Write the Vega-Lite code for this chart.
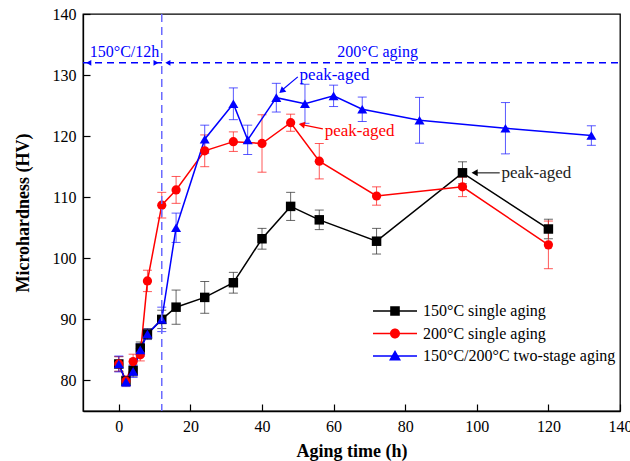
{
  "$schema": "https://vega.github.io/schema/vega-lite/v6.json",
  "width": 537,
  "height": 397,
  "autosize": "none",
  "padding": {"left": 83, "top": 14, "right": 10, "bottom": 50},
  "background": "white",
  "config": {
    "font": "Liberation Serif, Times New Roman, serif",
    "view": {"stroke": "#000", "strokeWidth": 1.3},
    "axis": {
      "labelFont": "Liberation Serif, Times New Roman, serif", "labelFontSize": 16, "labelColor": "#000",
      "titleFont": "Liberation Serif, Times New Roman, serif", "titleFontSize": 18, "titleFontWeight": "bold", "titleColor": "#000",
      "domainColor": "#000", "domainWidth": 1.3, "tickColor": "#000", "tickWidth": 1.2, "grid": false
    }
  },
  "datasets": {
    "hv": [
      {"series": "150°C single aging", "t": 0, "hv": 82.7, "err": 1.2},
      {"series": "150°C single aging", "t": 2, "hv": 79.9, "err": 0.8},
      {"series": "150°C single aging", "t": 4, "hv": 81.6, "err": 0.9},
      {"series": "150°C single aging", "t": 6, "hv": 85.3, "err": 1.0},
      {"series": "150°C single aging", "t": 8, "hv": 87.6, "err": 0.9},
      {"series": "150°C single aging", "t": 12, "hv": 90.0, "err": 1.5},
      {"series": "150°C single aging", "t": 16, "hv": 92.0, "err": 2.8},
      {"series": "150°C single aging", "t": 24, "hv": 93.6, "err": 2.6},
      {"series": "150°C single aging", "t": 32, "hv": 96.0, "err": 1.7},
      {"series": "150°C single aging", "t": 40, "hv": 103.2, "err": 1.7},
      {"series": "150°C single aging", "t": 48, "hv": 108.5, "err": 2.3},
      {"series": "150°C single aging", "t": 56, "hv": 106.3, "err": 1.6},
      {"series": "150°C single aging", "t": 72, "hv": 102.8, "err": 2.1},
      {"series": "150°C single aging", "t": 96, "hv": 114.0, "err": 1.8},
      {"series": "150°C single aging", "t": 120, "hv": 104.8, "err": 1.6},
      {"series": "200°C single aging", "t": 0, "hv": 82.7, "err": 1.2},
      {"series": "200°C single aging", "t": 2, "hv": 79.9, "err": 0.8},
      {"series": "200°C single aging", "t": 4, "hv": 83.1, "err": 1.2},
      {"series": "200°C single aging", "t": 6, "hv": 84.2, "err": 1.0},
      {"series": "200°C single aging", "t": 8, "hv": 96.3, "err": 1.75},
      {"series": "200°C single aging", "t": 12, "hv": 108.7, "err": 2.1},
      {"series": "200°C single aging", "t": 16, "hv": 111.2, "err": 2.2},
      {"series": "200°C single aging", "t": 24, "hv": 117.6, "err": 2.6},
      {"series": "200°C single aging", "t": 32, "hv": 119.1, "err": 1.6},
      {"series": "200°C single aging", "t": 40, "hv": 118.8, "err": 4.7},
      {"series": "200°C single aging", "t": 48, "hv": 122.2, "err": 1.4},
      {"series": "200°C single aging", "t": 56, "hv": 115.9, "err": 2.9},
      {"series": "200°C single aging", "t": 72, "hv": 110.2, "err": 1.5},
      {"series": "200°C single aging", "t": 96, "hv": 111.7, "err": 1.6},
      {"series": "200°C single aging", "t": 120, "hv": 102.2, "err": 3.9},
      {"series": "150°C/200°C two-stage aging", "t": 0, "hv": 82.7, "err": 1.3},
      {"series": "150°C/200°C two-stage aging", "t": 2, "hv": 79.8, "err": 0.8},
      {"series": "150°C/200°C two-stage aging", "t": 4, "hv": 81.5, "err": 1.0},
      {"series": "150°C/200°C two-stage aging", "t": 6, "hv": 85.0, "err": 1.0},
      {"series": "150°C/200°C two-stage aging", "t": 8, "hv": 87.6, "err": 0.8},
      {"series": "150°C/200°C two-stage aging", "t": 12, "hv": 90.0, "err": 2.0},
      {"series": "150°C/200°C two-stage aging", "t": 16, "hv": 105.0, "err": 2.4},
      {"series": "150°C/200°C two-stage aging", "t": 24, "hv": 119.5, "err": 2.3},
      {"series": "150°C/200°C two-stage aging", "t": 32, "hv": 125.3, "err": 2.6},
      {"series": "150°C/200°C two-stage aging", "t": 36, "hv": 119.4, "err": 2.4},
      {"series": "150°C/200°C two-stage aging", "t": 44, "hv": 126.3, "err": 2.35},
      {"series": "150°C/200°C two-stage aging", "t": 52, "hv": 125.3, "err": 3.2},
      {"series": "150°C/200°C two-stage aging", "t": 60, "hv": 126.6, "err": 1.75},
      {"series": "150°C/200°C two-stage aging", "t": 68, "hv": 124.4, "err": 2.0},
      {"series": "150°C/200°C two-stage aging", "t": 84, "hv": 122.6, "err": 3.75},
      {"series": "150°C/200°C two-stage aging", "t": 108, "hv": 121.3, "err": 4.2},
      {"series": "150°C/200°C two-stage aging", "t": 132, "hv": 120.1, "err": 1.6}
    ]
  },
  "layer": [
    {
      "data": {"name": "hv"},
      "transform": [{"filter": "datum.series === '150°C single aging'"}],
      "mark": {"type": "errorbar", "ticks": {"size": 9}, "thickness": 1, "color": "#333333", "opacity": 0.75},
      "encoding": {
        "x": {"field": "t", "type": "quantitative", "title": "Aging time (h)", "scale": {"domain": [-10, 140], "nice": false, "zero": false},
          "axis": {"title": "Aging time (h)", "values": [0, 10, 20, 30, 40, 50, 60, 70, 80, 90, 100, 110, 120, 130, 140],
            "labelExpr": "datum.value % 20 === 0 ? datum.label : ''",
            "tickSize": {"condition": {"test": "datum.value % 20 === 0", "value": -7}, "value": -4},
            "labelPadding": 14, "titlePadding": 8, "labelFlush": false, "labelOverlap": false}},
        "y": {"field": "hv", "type": "quantitative", "title": "Microhardness (HV)", "scale": {"domain": [75, 140], "nice": false, "zero": false},
          "axis": {"title": "Microhardness (HV)", "values": [80, 85, 90, 95, 100, 105, 110, 115, 120, 125, 130, 135, 140],
            "labelExpr": "datum.value % 10 === 0 ? datum.label : ''",
            "tickSize": {"condition": {"test": "datum.value % 10 === 0", "value": -7}, "value": -4},
            "labelPadding": 14, "titlePadding": 20, "labelFlush": false, "labelOverlap": false}},
        "yError": {"field": "err"}
      }
    },
    {
      "data": {"name": "hv"},
      "transform": [{"filter": "datum.series === '200°C single aging'"}],
      "mark": {"type": "errorbar", "ticks": {"size": 9}, "thickness": 1, "color": "#ff2020", "opacity": 0.75},
      "encoding": {
        "x": {"field": "t", "type": "quantitative", "title": "Aging time (h)"},
        "y": {"field": "hv", "type": "quantitative", "title": "Microhardness (HV)"},
        "yError": {"field": "err"}
      }
    },
    {
      "data": {"name": "hv"},
      "transform": [{"filter": "datum.series === '150°C/200°C two-stage aging'"}],
      "mark": {"type": "errorbar", "ticks": {"size": 9}, "thickness": 1, "color": "#2020ff", "opacity": 0.75},
      "encoding": {
        "x": {"field": "t", "type": "quantitative", "title": "Aging time (h)"},
        "y": {"field": "hv", "type": "quantitative", "title": "Microhardness (HV)"},
        "yError": {"field": "err"}
      }
    },
    {
      "data": {"name": "hv"},
      "transform": [{"filter": "datum.series === '150°C single aging'"}],
      "mark": {"type": "line", "strokeWidth": 1.5, "color": "#000000"},
      "encoding": {
        "x": {"field": "t", "type": "quantitative", "title": "Aging time (h)"},
        "y": {"field": "hv", "type": "quantitative", "title": "Microhardness (HV)"}
      }
    },
    {
      "data": {"name": "hv"},
      "transform": [{"filter": "datum.series === '200°C single aging'"}],
      "mark": {"type": "line", "strokeWidth": 1.5, "color": "#ff0000"},
      "encoding": {
        "x": {"field": "t", "type": "quantitative", "title": "Aging time (h)"},
        "y": {"field": "hv", "type": "quantitative", "title": "Microhardness (HV)"}
      }
    },
    {
      "data": {"name": "hv"},
      "transform": [{"filter": "datum.series === '150°C/200°C two-stage aging'"}],
      "mark": {"type": "line", "strokeWidth": 1.5, "color": "#0000ff"},
      "encoding": {
        "x": {"field": "t", "type": "quantitative", "title": "Aging time (h)"},
        "y": {"field": "hv", "type": "quantitative", "title": "Microhardness (HV)"}
      }
    },
    {
      "data": {"name": "hv"},
      "transform": [{"filter": "datum.series === '150°C single aging'"}],
      "mark": {"type": "point", "shape": "square", "filled": true, "size": 90, "color": "#000000", "opacity": 1},
      "encoding": {
        "x": {"field": "t", "type": "quantitative", "title": "Aging time (h)"},
        "y": {"field": "hv", "type": "quantitative", "title": "Microhardness (HV)"}
      }
    },
    {
      "data": {"name": "hv"},
      "transform": [{"filter": "datum.series === '200°C single aging'"}],
      "mark": {"type": "point", "shape": "circle", "filled": true, "size": 85, "color": "#ff0000", "opacity": 1},
      "encoding": {
        "x": {"field": "t", "type": "quantitative", "title": "Aging time (h)"},
        "y": {"field": "hv", "type": "quantitative", "title": "Microhardness (HV)"}
      }
    },
    {
      "data": {"name": "hv"},
      "transform": [{"filter": "datum.series === '150°C/200°C two-stage aging'"}],
      "mark": {"type": "point", "shape": "triangle-up", "filled": true, "size": 100, "color": "#0000ff", "opacity": 1},
      "encoding": {
        "x": {"field": "t", "type": "quantitative", "title": "Aging time (h)"},
        "y": {"field": "hv", "type": "quantitative", "title": "Microhardness (HV)"}
      }
    },
    {
      "data": {"values": [{"t": -10, "t2": 140, "hv": 132}]},
      "mark": {"type": "rule", "color": "#0000ff", "strokeWidth": 1.5, "strokeDash": [7, 5]},
      "encoding": {
        "x": {"field": "t", "type": "quantitative", "title": "Aging time (h)"},
        "x2": {"field": "t2"},
        "y": {"field": "hv", "type": "quantitative", "title": "Microhardness (HV)"}
      }
    },
    {
      "data": {"values": [{"t": 12}]},
      "mark": {"type": "rule", "color": "#6b6bff", "strokeWidth": 1.5, "strokeDash": [8, 5]},
      "encoding": {
        "x": {"field": "t", "type": "quantitative", "title": "Aging time (h)"}
      }
    },
    {
      "data": {"values": [{"t": -8.4, "hv": 132}, {"t": 13.7, "hv": 132}]},
      "mark": {"type": "point", "shape": "triangle-left", "filled": true, "size": 35, "color": "#0000ff", "opacity": 1},
      "encoding": {
        "x": {"field": "t", "type": "quantitative", "title": "Aging time (h)"},
        "y": {"field": "hv", "type": "quantitative", "title": "Microhardness (HV)"}
      }
    },
    {
      "data": {"values": [{"t": 10.4, "hv": 132}]},
      "mark": {"type": "point", "shape": "triangle-right", "filled": true, "size": 35, "color": "#0000ff", "opacity": 1},
      "encoding": {
        "x": {"field": "t", "type": "quantitative", "title": "Aging time (h)"},
        "y": {"field": "hv", "type": "quantitative", "title": "Microhardness (HV)"}
      }
    },
    {
      "data": {"values": [{"t": 1.6, "hv": 133.7, "label": "150°C/12h"}, {"t": 72.3, "hv": 133.7, "label": "200°C aging"}]},
      "mark": {"type": "text", "font": "Liberation Serif, Times New Roman, serif", "fontSize": 16, "color": "#0000ff", "align": "center", "baseline": "middle"},
      "encoding": {
        "x": {"field": "t", "type": "quantitative", "title": "Aging time (h)"},
        "y": {"field": "hv", "type": "quantitative", "title": "Microhardness (HV)"},
        "text": {"field": "label"}
      }
    },
    {
      "data": {"values": [{"t": 50.0, "hv": 129.7, "t2": 45.3, "hv2": 127.4}]},
      "mark": {"type": "rule", "color": "#0000ff", "strokeWidth": 1.2},
      "encoding": {
        "x": {"field": "t", "type": "quantitative", "title": "Aging time (h)"},
        "y": {"field": "hv", "type": "quantitative", "title": "Microhardness (HV)"},
        "x2": {"field": "t2"},
        "y2": {"field": "hv2"}
      }
    },
    {
      "data": {"values": [{"t": 45.5, "hv": 127.4}]},
      "mark": {"type": "point", "shape": "triangle-left", "angle": -40, "filled": true, "size": 50, "color": "#0000ff", "opacity": 1},
      "encoding": {
        "x": {"field": "t", "type": "quantitative", "title": "Aging time (h)"},
        "y": {"field": "hv", "type": "quantitative", "title": "Microhardness (HV)"}
      }
    },
    {
      "data": {"values": [{"t": 57.0, "hv": 121.2, "t2": 51.1, "hv2": 121.9}]},
      "mark": {"type": "rule", "color": "#ff0000", "strokeWidth": 1.2},
      "encoding": {
        "x": {"field": "t", "type": "quantitative", "title": "Aging time (h)"},
        "y": {"field": "hv", "type": "quantitative", "title": "Microhardness (HV)"},
        "x2": {"field": "t2"},
        "y2": {"field": "hv2"}
      }
    },
    {
      "data": {"values": [{"t": 51.1, "hv": 121.9}]},
      "mark": {"type": "point", "shape": "triangle-left", "angle": 11, "filled": true, "size": 50, "color": "#ff0000", "opacity": 1},
      "encoding": {
        "x": {"field": "t", "type": "quantitative", "title": "Aging time (h)"},
        "y": {"field": "hv", "type": "quantitative", "title": "Microhardness (HV)"}
      }
    },
    {
      "data": {"values": [{"t": 106.4, "hv": 114.0, "t2": 99.4}]},
      "mark": {"type": "rule", "color": "#555555", "strokeWidth": 1.5},
      "encoding": {
        "x": {"field": "t", "type": "quantitative", "title": "Aging time (h)"},
        "y": {"field": "hv", "type": "quantitative", "title": "Microhardness (HV)"},
        "x2": {"field": "t2"}
      }
    },
    {
      "data": {"values": [{"t": 99.4, "hv": 114.0}]},
      "mark": {"type": "point", "shape": "triangle-left", "filled": true, "size": 50, "color": "#000000", "opacity": 1},
      "encoding": {
        "x": {"field": "t", "type": "quantitative", "title": "Aging time (h)"},
        "y": {"field": "hv", "type": "quantitative", "title": "Microhardness (HV)"}
      }
    },
    {
      "data": {"values": [{"t": 50.5, "hv": 130.0, "label": "peak-aged"}]},
      "mark": {"type": "text", "font": "Liberation Serif, Times New Roman, serif", "fontSize": 17, "align": "left", "baseline": "middle", "color": "#0000ff"},
      "encoding": {
        "x": {"field": "t", "type": "quantitative", "title": "Aging time (h)"},
        "y": {"field": "hv", "type": "quantitative", "title": "Microhardness (HV)"},
        "text": {"field": "label"}
      }
    },
    {
      "data": {"values": [{"t": 57.5, "hv": 120.8, "label": "peak-aged"}]},
      "mark": {"type": "text", "font": "Liberation Serif, Times New Roman, serif", "fontSize": 17, "align": "left", "baseline": "middle", "color": "#ff0000"},
      "encoding": {
        "x": {"field": "t", "type": "quantitative", "title": "Aging time (h)"},
        "y": {"field": "hv", "type": "quantitative", "title": "Microhardness (HV)"},
        "text": {"field": "label"}
      }
    },
    {
      "data": {"values": [{"t": 106.9, "hv": 114.0, "label": "peak-aged"}]},
      "mark": {"type": "text", "font": "Liberation Serif, Times New Roman, serif", "fontSize": 17, "align": "left", "baseline": "middle", "color": "#222222"},
      "encoding": {
        "x": {"field": "t", "type": "quantitative", "title": "Aging time (h)"},
        "y": {"field": "hv", "type": "quantitative", "title": "Microhardness (HV)"},
        "text": {"field": "label"}
      }
    },
    {
      "data": {"name": "hv"},
      "transform": [{"filter": "datum.hv < 0"}],
      "mark": {"type": "point", "filled": true, "opacity": 1},
      "encoding": {
        "x": {"field": "t", "type": "quantitative", "title": "Aging time (h)"},
        "y": {"field": "hv", "type": "quantitative", "title": "Microhardness (HV)"},
        "color": {"field": "series", "type": "nominal",
          "scale": {"domain": ["150°C single aging", "200°C single aging", "150°C/200°C two-stage aging"], "range": ["#000000", "#ff0000", "#0000ff"]},
          "legend": {"title": null, "orient": "none", "legendX": 302, "legendY": 287, "symbolSize": 400, "symbolStrokeWidth": 0, "labelFont": "Liberation Serif, Times New Roman, serif", "labelFontSize": 16, "labelColor": "#000", "labelOffset": 18, "rowPadding": 4.5, "padding": 0, "labelLimit": 300}},
        "shape": {"field": "series", "type": "nominal",
          "scale": {"domain": ["150°C single aging", "200°C single aging", "150°C/200°C two-stage aging"],
            "range": [
              "M-2.2,-0.07H2.2V0.07H-2.2ZM-0.48,-0.48H0.48V0.48H-0.48Z",
              "M-2.2,-0.07H2.2V0.07H-2.2ZM0.5,0A0.5,0.5 0 1,1 -0.5,0A0.5,0.5 0 1,1 0.5,0Z",
              "M-2.2,-0.07H2.2V0.07H-2.2ZM0,-0.6L0.6,0.45H-0.6Z"
            ]},
          "legend": {"title": null, "orient": "none", "legendX": 302, "legendY": 287, "symbolSize": 400, "symbolStrokeWidth": 0, "labelFont": "Liberation Serif, Times New Roman, serif", "labelFontSize": 16, "labelColor": "#000", "labelOffset": 18, "rowPadding": 4.5, "padding": 0, "labelLimit": 300}}
      }
    }
  ]
}
